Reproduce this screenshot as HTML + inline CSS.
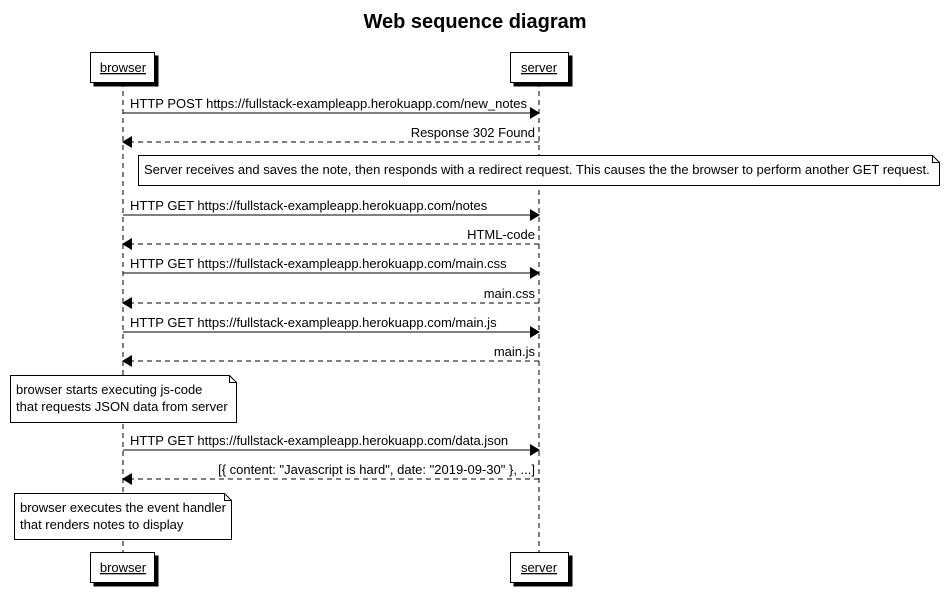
<!DOCTYPE html>
<html><head><style>body{margin:0;background:#fff}svg{display:block}text{font-family:"Liberation Sans",sans-serif;font-size:13px;fill:#000}</style></head>
<body>
<svg width="949" height="608" viewBox="0 0 949 608" xmlns="http://www.w3.org/2000/svg">
<defs>
<marker id="a" markerWidth="10" markerHeight="12" refX="9" refY="6" orient="auto" markerUnits="userSpaceOnUse"><path d="M0,0 L10,6 L0,12 Z" fill="#000"/></marker>
</defs>
<text x="475" y="28" text-anchor="middle" style="font-size:20px;font-weight:bold">Web sequence diagram</text>
<g stroke="#000" stroke-dasharray="5,4" stroke-width="1">
<line x1="123" y1="82" x2="123" y2="552"/>
<line x1="539" y1="82" x2="539" y2="552"/>
</g>
<g stroke="#000" fill="#fff">
<rect x="94" y="56" width="64" height="30" fill="#000"/>
<rect x="90.5" y="52.5" width="64" height="30"/>
<rect x="514" y="56" width="58" height="30" fill="#000"/>
<rect x="510.5" y="52.5" width="58" height="30"/>
<rect x="94" y="556" width="64" height="30" fill="#000"/>
<rect x="90.5" y="552.5" width="64" height="30"/>
<rect x="514" y="556" width="58" height="30" fill="#000"/>
<rect x="510.5" y="552.5" width="58" height="30"/>
</g>
<g text-anchor="middle" text-decoration="underline" style="font-size:12px">
<text x="123" y="72">browser</text><text x="539" y="72">server</text>
<text x="123" y="572">browser</text><text x="539" y="572">server</text>
</g>
<g stroke="#000" fill="none">
<line x1="123" y1="113" x2="539" y2="113" marker-end="url(#a)"/>
<line x1="539" y1="142" x2="123" y2="142" stroke-dasharray="5,4" marker-end="url(#a)"/>
<line x1="123" y1="215" x2="539" y2="215" marker-end="url(#a)"/>
<line x1="539" y1="244" x2="123" y2="244" stroke-dasharray="5,4" marker-end="url(#a)"/>
<line x1="123" y1="273" x2="539" y2="273" marker-end="url(#a)"/>
<line x1="539" y1="303" x2="123" y2="303" stroke-dasharray="5,4" marker-end="url(#a)"/>
<line x1="123" y1="332" x2="539" y2="332" marker-end="url(#a)"/>
<line x1="539" y1="361" x2="123" y2="361" stroke-dasharray="5,4" marker-end="url(#a)"/>
<line x1="123" y1="450" x2="539" y2="450" marker-end="url(#a)"/>
<line x1="539" y1="479" x2="123" y2="479" stroke-dasharray="5,4" marker-end="url(#a)"/>
</g>
<text x="130" y="108">HTTP POST https://fullstack-exampleapp.herokuapp.com/new_notes</text>
<text x="535" y="137" text-anchor="end">Response 302 Found</text>
<text x="130" y="210">HTTP GET https://fullstack-exampleapp.herokuapp.com/notes</text>
<text x="535" y="239" text-anchor="end">HTML-code</text>
<text x="130" y="268">HTTP GET https://fullstack-exampleapp.herokuapp.com/main.css</text>
<text x="535" y="298" text-anchor="end">main.css</text>
<text x="130" y="327">HTTP GET https://fullstack-exampleapp.herokuapp.com/main.js</text>
<text x="535" y="356" text-anchor="end">main.js</text>
<text x="130" y="445">HTTP GET https://fullstack-exampleapp.herokuapp.com/data.json</text>
<text x="535" y="474" text-anchor="end">[{ content: "Javascript is hard", date: "2019-09-30" }, ...]</text>
<g stroke="#000" fill="#fff">
<path d="M138.5,155.5 H932.5 L939.5,162.5 V185.5 H138.5 Z"/><path d="M932.5,155.5 V162.5 H939.5" fill="none"/>
<path d="M10.5,375.5 H229.5 L236.5,382.5 V422.5 H10.5 Z"/><path d="M229.5,375.5 V382.5 H236.5" fill="none"/>
<path d="M14.5,493.5 H224.5 L231.5,500.5 V539.5 H14.5 Z"/><path d="M224.5,493.5 V500.5 H231.5" fill="none"/>
</g>
<text x="144" y="174">Server receives and saves the note, then responds with a redirect request. This causes the the browser to perform another GET request.</text>
<text x="16" y="394">browser starts executing js-code</text>
<text x="16" y="411">that requests JSON data from server</text>
<text x="20" y="512">browser executes the event handler</text>
<text x="20" y="529">that renders notes to display</text>
</svg>
</body></html>
